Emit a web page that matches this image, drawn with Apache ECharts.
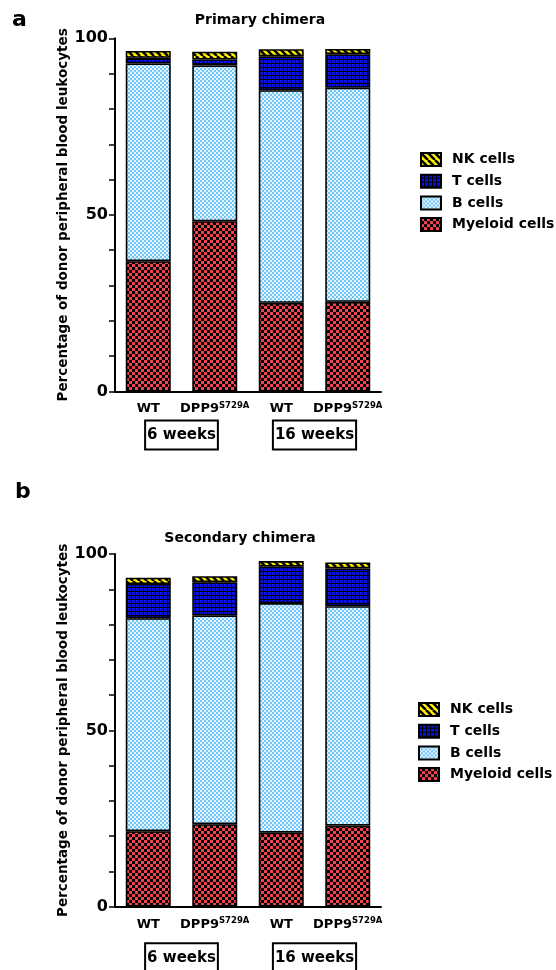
<!DOCTYPE html>
<html><head><meta charset="utf-8">
<script src="https://cdn.jsdelivr.net/npm/echarts@6/dist/echarts.min.js"></script>
<style>html,body{margin:0;padding:0;background:#fff}#c{width:556px;height:970px}</style>
</head><body><div id="c"></div>
<script>
// ---- data ----
const categories = ['WT', 'DPP9S729A', 'WT', 'DPP9S729A'];
const timepoints = ['6 weeks', '16 weeks'];
const legendNames = ['NK cells', 'T cells', 'B cells', 'Myeloid cells'];
const yTickLabels = [0, 50, 100];
const panelTitles = ['Primary chimera', 'Secondary chimera'];
const panelLetters = ['a', 'b'];
const yAxisName = 'Percentage of donor peripheral blood leukocytes';

// Primary chimera (segment sizes, %)
const primaryMyeloid = [36.9, 48.2, 25.1, 25.4];
const primaryB = [56.0, 44.1, 60.2, 60.6];
const primaryT = [1.6, 1.7, 9.6, 9.5];
const primaryNK = [1.9, 2.2, 2.0, 1.5];
// Secondary chimera
const secondaryMyeloid = [21.4, 23.4, 21.0, 23.0];
const secondaryB = [60.4, 59.2, 65.1, 62.2];
const secondaryT = [9.7, 9.4, 10.3, 10.7];
const secondaryNK = [1.8, 1.7, 1.6, 1.7];

// ---- patterns ----
function pattern(w, h, draw) {
  const c = document.createElement('canvas');
  c.width = w; c.height = h;
  const ctx = c.getContext('2d');
  draw(ctx, w, h);
  return { image: c, repeat: 'repeat' };
}
const patMyeloid = pattern(6, 6, (ctx) => {
  ctx.fillStyle = '#000'; ctx.fillRect(0, 0, 6, 6);
  ctx.fillStyle = '#f2434f'; ctx.fillRect(0, 0, 3, 3); ctx.fillRect(3, 3, 3, 3);
});
const patB = pattern(4, 4, (ctx) => {
  ctx.fillStyle = '#e4f4ff'; ctx.fillRect(0, 0, 4, 4);
  ctx.fillStyle = '#74c6f6'; ctx.fillRect(0, 0, 2, 2); ctx.fillRect(2, 2, 2, 2);
});
const patT = pattern(4, 4, (ctx) => {
  ctx.fillStyle = '#000'; ctx.fillRect(0, 0, 4, 4);
  ctx.fillStyle = '#0a12e0'; ctx.fillRect(0, 0, 3, 3);
});
const patNK = pattern(7, 7, (ctx) => {
  ctx.fillStyle = '#fff000'; ctx.fillRect(0, 0, 7, 7);
  ctx.strokeStyle = '#000'; ctx.lineWidth = 2.6;
  for (const x0 of [-7, 0, 7]) {
    ctx.beginPath(); ctx.moveTo(x0, 0); ctx.lineTo(x0 + 7, 7); ctx.stroke();
  }
});

const FONT = 'DejaVu Sans';
const chart = echarts.init(document.getElementById('c'), null, { renderer: 'canvas' });

function bar(name, data, idx, color) {
  return {
    name, type: 'bar', data, stack: 'panel' + idx,
    xAxisIndex: idx * 2, yAxisIndex: idx, barWidth: 45,
    itemStyle: { color, borderColor: '#000', borderWidth: 1.6 },
    emphasis: { disabled: true }, animation: false
  };
}
function xMain(gi) {
  return {
    gridIndex: gi, type: 'category', data: categories, position: 'bottom',
    axisLine: { lineStyle: { color: '#000', width: 2 } },
    axisTick: { alignWithLabel: true, length: 5, lineStyle: { color: '#000', width: 1.5 } },
    axisLabel: {
      interval: 0, margin: 10, color: '#000',
      formatter: (v) => v.startsWith('DPP9') ? '{b|DPP9}{s|' + v.slice(4) + '}' : '{b|' + v + '}',
      rich: {
        b: { fontFamily: FONT, fontWeight: 'bold', fontSize: 13, lineHeight: 15, color: '#000' },
        s: { fontFamily: FONT, fontWeight: 'bold', fontSize: 8.5, lineHeight: 9, verticalAlign: 'top', color: '#000' }
      }
    }
  };
}
function xGroup(gi, margin) {
  return {
    gridIndex: gi, type: 'category', data: timepoints, position: 'bottom',
    axisLine: { show: false }, axisTick: { show: false }, splitLine: { show: false },
    axisLabel: {
      interval: 0, margin, color: '#000', fontFamily: FONT, fontWeight: 'bold', fontSize: 15,
      lineHeight: 18, borderColor: '#000', borderWidth: 2, padding: [6, 2, 5, 2]
    }
  };
}
function yAx(gi) {
  return {
    gridIndex: gi, type: 'value', min: 0, max: 100, interval: 10,
    axisLine: { show: true, lineStyle: { color: '#000', width: 2 } },
    axisTick: { show: true, length: 6, lineStyle: { color: '#000', width: 1.5 } },
    splitLine: { show: false },
    axisLabel: {
      formatter: (v) => yTickLabels.includes(v) ? String(v) : '',
      fontFamily: FONT, fontWeight: 'bold', fontSize: 16, color: '#000', margin: 7
    },
    name: yAxisName, nameLocation: 'middle', nameGap: 36,
    nameTextStyle: { fontFamily: FONT, fontWeight: 'bold', fontSize: 13.5, color: '#000' }
  };
}
function legend(left, top) {
  return {
    data: legendNames, orient: 'vertical', left, top, icon: 'rect', padding: 0,
    itemWidth: 20, itemHeight: 13, itemGap: 6.7, selectedMode: false,
    textStyle: { fontFamily: FONT, fontWeight: 'bold', fontSize: 14, lineHeight: 14, color: '#000', padding: [0, 0, 0, 6] }
  };
}
const titleStyle = { fontFamily: FONT, fontWeight: 'bold', fontSize: 14, color: '#000' };
const letterStyle = { fontFamily: FONT, fontWeight: 'bold', fontSize: 22, color: '#000' };

chart.setOption({
  animation: false,
  backgroundColor: '#fff',
  title: [
    { text: panelLetters[0], left: 12, top: 9, padding: 0, textStyle: letterStyle },
    { text: panelTitles[0], left: 260, top: 13, padding: 0, textAlign: 'center', textStyle: titleStyle },
    { text: panelLetters[1], left: 15, top: 481, padding: 0, textStyle: letterStyle },
    { text: panelTitles[1], left: 240, top: 531, padding: 0, textAlign: 'center', textStyle: titleStyle }
  ],
  legend: [legend(420, 152), legend(418, 702)],
  grid: [
    { left: 115, top: 38.3, width: 266, height: 353.2, containLabel: false, outerBoundsMode: 'none' },
    { left: 115, top: 554, width: 266, height: 352.7, containLabel: false, outerBoundsMode: 'none' }
  ],
  xAxis: [xMain(0), xGroup(0, 29), xMain(1), xGroup(1, 36.5)],
  yAxis: [yAx(0), yAx(1)],
  series: [
    bar('Myeloid cells', primaryMyeloid, 0, patMyeloid),
    bar('B cells', primaryB, 0, patB),
    bar('T cells', primaryT, 0, patT),
    bar('NK cells', primaryNK, 0, patNK),
    bar('Myeloid cells', secondaryMyeloid, 1, patMyeloid),
    bar('B cells', secondaryB, 1, patB),
    bar('T cells', secondaryT, 1, patT),
    bar('NK cells', secondaryNK, 1, patNK)
  ]
});
</script></body></html>
